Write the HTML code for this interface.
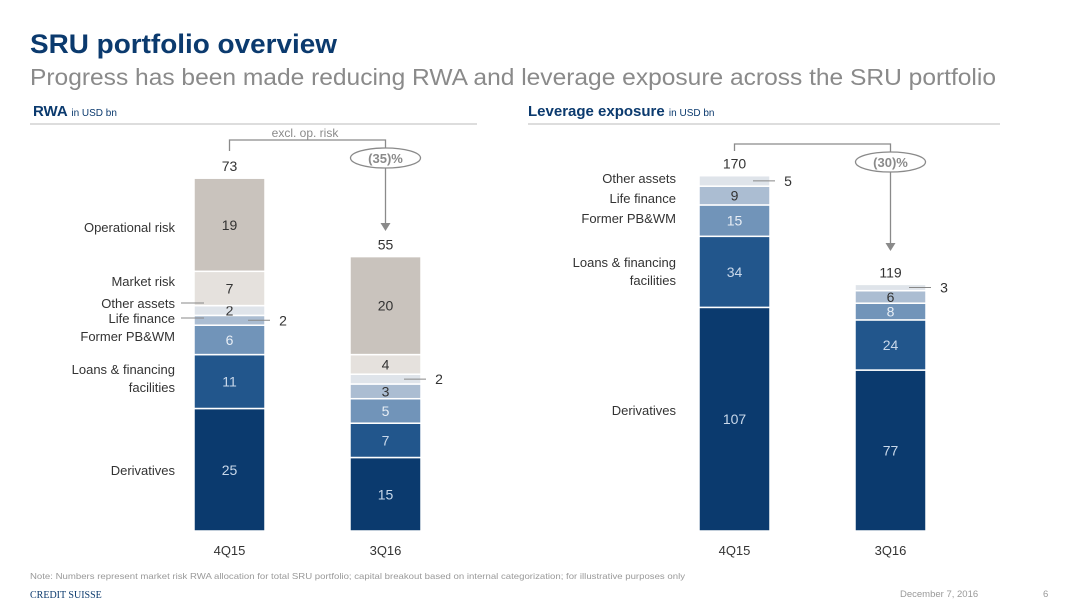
<!DOCTYPE html>
<html><head><meta charset="utf-8"><style>
body{margin:0;background:#fff;}
svg{display:block;font-family:"Liberation Sans",Arial,sans-serif;}
</style></head><body>
<svg id="c" width="1080" height="608" viewBox="0 0 1080 608">
<text x="30" y="53" font-size="27" font-weight="bold" fill="#0b3a6e" textLength="307" lengthAdjust="spacingAndGlyphs">SRU portfolio overview</text>
<text x="30" y="85" font-size="23" fill="#8a8a8a" textLength="966" lengthAdjust="spacingAndGlyphs">Progress has been made reducing RWA and leverage exposure across the SRU portfolio</text>
<text x="33" y="116" font-size="15" font-weight="bold" fill="#0b3a6e">RWA <tspan font-size="10" font-weight="normal">in USD bn</tspan></text>
<line x1="30" y1="124" x2="477" y2="124" stroke="#bbb" stroke-width="1"/>
<text x="528" y="116" font-size="15" font-weight="bold" fill="#0b3a6e">Leverage exposure <tspan font-size="10" font-weight="normal">in USD bn</tspan></text>
<line x1="528" y1="124" x2="1000" y2="124" stroke="#bbb" stroke-width="1"/>
<g id="g"></g>
<text x="30" y="579" font-size="8.5" fill="#999" textLength="655" lengthAdjust="spacingAndGlyphs">Note: Numbers represent market risk RWA allocation for total SRU portfolio; capital breakout based on internal categorization; for illustrative purposes only</text>
<text x="30" y="598" font-size="10" fill="#0b3a6e" font-family="Liberation Serif,serif">CREDIT SUISSE</text>
<text x="900" y="597" font-size="9.5" fill="#999">December 7, 2016</text>
<text x="1043" y="597" font-size="9.5" fill="#999">6</text>
</svg>
<script>
const periods = ["4Q15", "3Q16"];
const rwaCategories = ["Derivatives","Loans & financing facilities","Former PB&WM","Life finance","Other assets","Market risk","Operational risk"];
const rwa4Q15 = [25, 11, 6, 2, 2, 7, 19];
const rwa3Q16 = [15, 7, 5, 3, 2, 4, 20];
const rwaTotals = [73, 55];
const levCategories = ["Derivatives","Loans & financing facilities","Former PB&WM","Life finance","Other assets"];
const lev4Q15 = [107, 34, 15, 9, 5];
const lev3Q16 = [77, 24, 8, 6, 3];
const levTotals = [170, 119];
const rwaChange = "(35)%";
const levChange = "(30)%";

const NS="http://www.w3.org/2000/svg";
const g=document.getElementById('g');
function el(t,a,txt){const e=document.createElementNS(NS,t);for(const k in a)e.setAttribute(k,a[k]);if(txt!=null)e.textContent=txt;g.appendChild(e);return e;}
const colors=["#0b3a6e","#22568c","#7194b9","#abbdd2","#dfe4ea","#e5e1dd","#c9c3bd"];
const txtCol=["#c9d8ea","#c9d8ea","#e8eef5","#333","#333","#333","#333"];
const baseY=531;
function drawChart(prefix, series, totals, xs, scale, outside){
  const bw=71;
  const tops=[];
  series.forEach((vals,bi)=>{
    let y=baseY;const x=xs[bi];
    vals.forEach((v,i)=>{
      const h=v*scale;y-=h;
      const r=el('rect',{x:x,y:y,width:bw,height:h,fill:colors[i],stroke:'#fff','stroke-width':1.5});
      
      
      const cy=y+h/2;
      if(outside[bi]===i){
        const l=el('line',{x1:x+bw-17,y1:cy,x2:x+bw+5,y2:cy,stroke:'#888','stroke-width':1});
        
        
        const t=el('text',{x:x+bw+18,y:cy+5,'font-size':14,fill:'#333','text-anchor':'middle'},v);
        
        
      } else {
        const t=el('text',{x:x+bw/2,y:cy+5,'font-size':14,fill:txtCol[i],'text-anchor':'middle'},v);
        
        
      }
    });
    tops.push(y);
    const tt=el('text',{x:x+bw/2,y:y-7,'font-size':14,fill:'#333','text-anchor':'middle'},totals[bi]);
    
    
    const xl=el('text',{x:x+bw/2,y:555,'font-size':13,fill:'#333','text-anchor':'middle'},periods[bi]);
    
    
  });
  return tops;
}
const rwaTops=drawChart('rwa',[rwa4Q15,rwa3Q16],rwaTotals,[194,350],4.9,[3,4]);
const levTops=drawChart('lev',[lev4Q15,lev3Q16],levTotals,[699,855],2.09,[4,4]);

function catLabel(name,x,y,lines){
  lines.forEach((s,i)=>{const t=el('text',{x:x,y:y+i*18,'font-size':13,fill:'#333','text-anchor':'end'},s);
  
  });
}
catLabel('rwa-label-operational-risk',175,232,['Operational risk']);
catLabel('rwa-label-market-risk',175,286,['Market risk']);
catLabel('rwa-label-other-assets',175,308,['Other assets']);
catLabel('rwa-label-life-finance',175,323,['Life finance']);
catLabel('rwa-label-former-pbwm',175,341,['Former PB&WM']);
catLabel('rwa-label-loans',175,374,['Loans & financing','facilities']);
catLabel('rwa-label-derivatives',175,475,['Derivatives']);
[[303],[318]].forEach((a,i)=>{const l=el('line',{x1:181,y1:a[0],x2:204,y2:a[0],stroke:'#888','stroke-width':1});

});
catLabel('lev-label-other-assets',676,183,['Other assets']);
catLabel('lev-label-life-finance',676,203,['Life finance']);
catLabel('lev-label-former-pbwm',676,223,['Former PB&WM']);
catLabel('lev-label-loans',676,267,['Loans & financing','facilities']);
catLabel('lev-label-derivatives',676,415,['Derivatives']);

function change(prefix,x1,x2,yb,txt,tipY){
  const p=el('path',{d:`M${x1} 151 V${yb} H${x2} V${tipY-6}`,fill:'none',stroke:'#8a8a8a','stroke-width':1.3});
  
  
  const a=el('path',{d:`M${x2-5} ${tipY-8} L${x2+5} ${tipY-8} L${x2} ${tipY} Z`,fill:'#8a8a8a'});
  
  
  const e=el('ellipse',{cx:x2,cy:yb+18,rx:35,ry:10,fill:'#fff',stroke:'#8a8a8a','stroke-width':1.3});
  
  
  const t=el('text',{x:x2,y:yb+23,'font-size':13,'font-weight':'bold',fill:'#8a8a8a','text-anchor':'middle'},txt);
  
  
}
change('rwa',229.5,385.5,140,rwaChange,231);
const ex=el('text',{x:305,y:137,'font-size':12,fill:'#8a8a8a','text-anchor':'middle'},'excl. op. risk');


change('lev',734.5,890.5,144,levChange,251);
</script>
</body></html>
